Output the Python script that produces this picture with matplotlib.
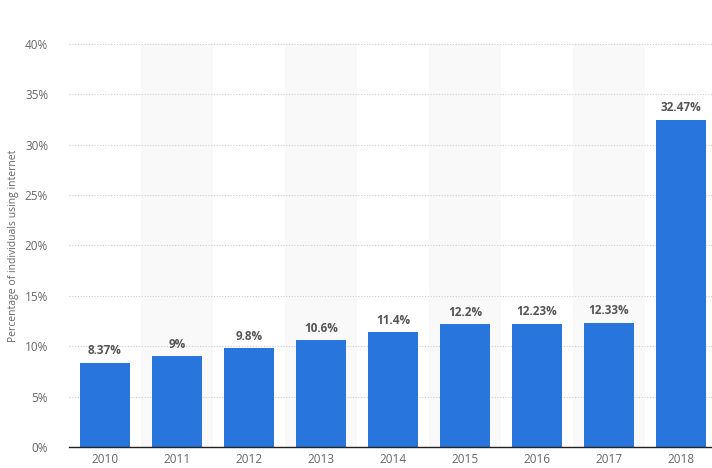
import matplotlib
matplotlib.use("Agg")
import matplotlib.pyplot as plt

years = ["2010", "2011", "2012", "2013", "2014", "2015", "2016", "2017", "2018"]
values = [8.37, 9, 9.8, 10.6, 11.4, 12.2, 12.23, 12.33, 32.47]
labels = ["8.37%", "9%", "9.8%", "10.6%", "11.4%", "12.2%", "12.23%", "12.33%", "32.47%"]
yticks = [0, 5, 10, 15, 20, 25, 30, 35, 40]

plt.rcParams["font.family"] = ["Open Sans", "DejaVu Sans"]

fig = plt.figure(figsize=(7.12, 4.68), dpi=100)
ax = fig.add_axes([69 / 712, 21 / 468, 643 / 712, 403 / 468])

x = list(range(len(years)))

# alternating column shading
for i in x:
    if i % 2 == 1:
        ax.axvspan(i - 0.5, i + 0.5, color="#f9f9f9", zorder=0, lw=0)

ax.bar(x, values, width=0.69, color="#2876dd", zorder=3)

for xi, v, lab in zip(x, values, labels):
    ax.annotate(lab, (xi, v), xytext=(0, 4), textcoords="offset points",
                ha="center", va="bottom", fontsize=8.5, fontweight="bold",
                color="#555555")

ax.set_ylim(0, 40)
ax.set_xlim(-0.5, 8.43)
ax.set_yticks(yticks)
ax.set_yticklabels([f"{t}%" for t in yticks])
ax.set_xticks(x)
ax.set_xticklabels(years)
ax.yaxis.grid(True, linestyle=(0, (1, 1.5)), color="#cccccc", lw=0.8, zorder=1)
ax.set_axisbelow(True)

for side in ["top", "right", "left"]:
    ax.spines[side].set_visible(False)
ax.spines["bottom"].set_color("#222222")
ax.spines["bottom"].set_linewidth(1.0)
ax.spines["bottom"].set_zorder(4)

ax.tick_params(axis="both", length=0, labelsize=8.5, labelcolor="#666666")
ax.tick_params(axis="x", pad=4)
ax.tick_params(axis="y", pad=15)

ax.set_ylabel("Percentage of individuals using internet", fontsize=7.5,
              color="#666666", labelpad=4)
ax.yaxis.set_label_coords(-0.077, 0.5)

fig.savefig("out.png", dpi=100)
